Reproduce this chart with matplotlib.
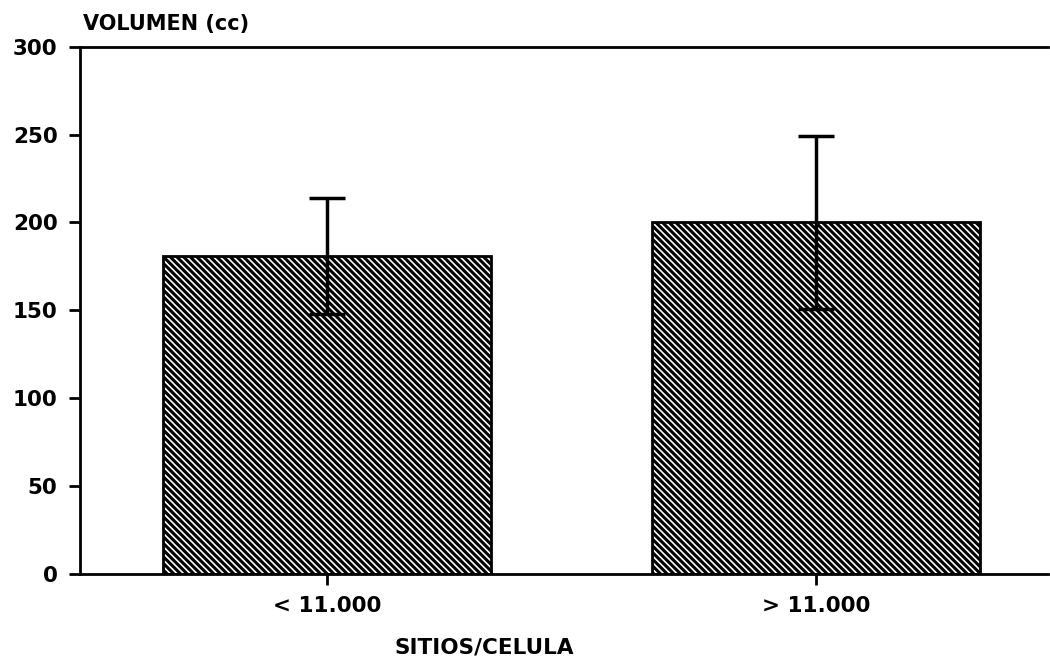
import matplotlib.pyplot as plt

# datos: volumen medio y desviación por grupo de sitios/célula
grupos = ['< 11.000', '> 11.000']
volumen = [181, 200]
desviacion = [33, 49]

plt.rcParams['font.family'] = ['DejaVu Sans']
plt.rcParams['font.weight'] = 'bold'
plt.rcParams['hatch.linewidth'] = 2.2

fig = plt.figure(figsize=(10.5, 6.68), dpi=100)
ax = fig.add_axes([0.076, 0.141, 0.922, 0.789])

x = range(len(grupos))
ax.bar(x, volumen, width=0.67, color='white', edgecolor='black',
       linewidth=2, hatch='\\\\\\\\\\', zorder=2)
ax.errorbar(x, volumen, yerr=desviacion, fmt='none', ecolor='black',
            elinewidth=2.5, capsize=13, capthick=2.5, zorder=3)

ax.set_xlim(-0.505, 1.474)
ax.set_ylim(0, 300)
ax.set_yticks(range(0, 301, 50))
ax.set_xticks(list(x))
ax.set_xticklabels(grupos)

ax.spines['right'].set_visible(False)
for s in ['left', 'bottom', 'top']:
    ax.spines[s].set_linewidth(2)

ax.tick_params(axis='both', direction='out', length=8, width=2,
               labelsize=15.5, pad=8)
for lab in ax.get_xticklabels() + ax.get_yticklabels():
    lab.set_fontweight('bold')

ax.set_xlabel('SITIOS/CELULA', fontsize=15.5, fontweight='bold')
ax.xaxis.set_label_coords(0.418, -0.14)
ax.get_xaxis().label.set_va('center')
ax.text(0.003, 1.025, 'VOLUMEN (cc)', transform=ax.transAxes,
        fontsize=15, fontweight='bold', ha='left', va='bottom')

fig.savefig('out.png', dpi=100)
